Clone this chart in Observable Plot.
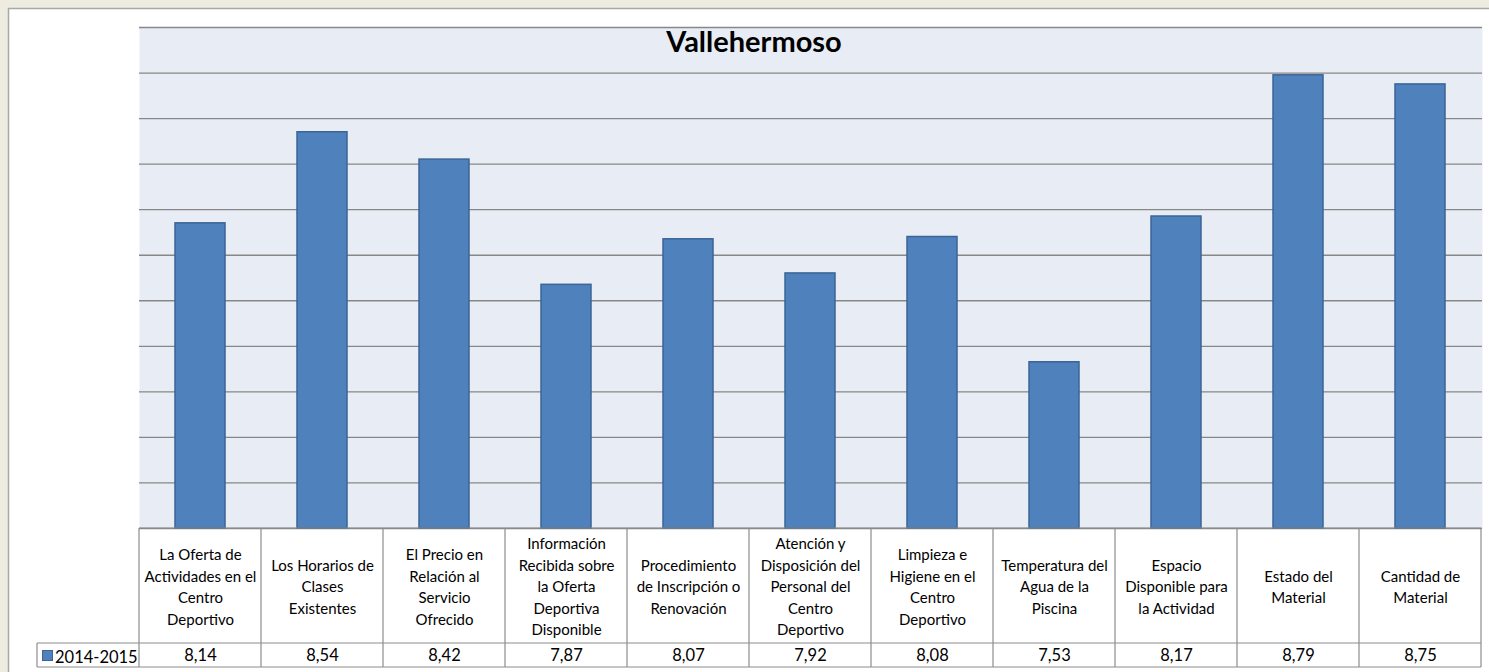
<!DOCTYPE html>
<html><head><meta charset="utf-8">
<script src="https://cdn.jsdelivr.net/npm/d3@7"></script>
<script src="https://cdn.jsdelivr.net/npm/@observablehq/plot@0.6"></script>
<style>
html,body{margin:0;padding:0;background:#EEEBE1;}
#chart{position:absolute;left:0;top:0;width:1489px;height:672px;}
svg{display:block}
</style></head><body><div id="chart"></div>
<script>
const title = "Vallehermoso";
const seriesName = "2014-2015";
const categories = [
  "La Oferta de\nActividades en el\nCentro\nDeportivo",
  "Los Horarios de\nClases\nExistentes",
  "El Precio en\nRelación al\nServicio\nOfrecido",
  "Información\nRecibida sobre\nla Oferta\nDeportiva\nDisponible",
  "Procedimiento\nde Inscripción o\nRenovación",
  "Atención y\nDisposición del\nPersonal del\nCentro\nDeportivo",
  "Limpieza e\nHigiene en el\nCentro\nDeportivo",
  "Temperatura del\nAgua de la\nPiscina",
  "Espacio\nDisponible para\nla Actividad",
  "Estado del\nMaterial",
  "Cantidad de\nMaterial"
];
const values = [8.14, 8.54, 8.42, 7.87, 8.07, 7.92, 8.08, 7.53, 8.17, 8.79, 8.75];
const yDomain = [6.8, 9.0];
const gridTicks = [6.8, 7.0, 7.2, 7.4, 7.6, 7.8, 8.0, 8.2, 8.4, 8.6, 8.8, 9.0];

const data = categories.map((c, i) => ({category: c, value: values[i]}));
const fmt = d3.formatLocale({decimal: ",", thousands: ".", grouping: [3], currency: ["", "€"]}).format(".2f");
const font = "Lato, 'Open Sans', sans-serif";
const barFill = "#4F81BD", barStroke = "#3A6596", lineColor = "#8C8C8C";

const chart = Plot.plot({
  width: 1489, height: 672,
  marginLeft: 139, marginRight: 7, marginTop: 27, marginBottom: 144,
  x: {domain: categories, paddingInner: 0.59, paddingOuter: 0.295, axis: null},
  y: {domain: yDomain, axis: null},
  style: {background: "transparent", fontFamily: font, overflow: "visible"},
  marks: [
    Plot.frame({fill: "#E8ECF4", stroke: null}),
    Plot.ruleY(gridTicks, {stroke: "#878787", strokeWidth: 1.3}),
    Plot.barY(data, {x: "category", y1: yDomain[0], y2: "value", fill: barFill, stroke: barStroke, strokeWidth: 1.5}),
    Plot.text(data, {x: "category", text: "category", frameAnchor: "bottom", dy: 57, lineAnchor: "middle", lineHeight: 1.43, fontSize: 15, fill: "#000"}),
    Plot.text(data, {x: "category", text: d => fmt(d.value), frameAnchor: "bottom", dy: 132.5, fontSize: 16.5, fill: "#000"})
  ]
});

const svg = d3.select(chart);
// white chart panel behind everything
svg.insert("rect", ":first-child")
  .attr("x", 8.5).attr("y", 8.5).attr("width", 1490).attr("height", 700)
  .attr("fill", "#FFFFFF").attr("stroke", "#A8A8A8").attr("stroke-width", 1.5);

const xs = chart.scale("x");
const step = xs.step, bw = xs.bandwidth;
const lefts = categories.map(c => xs.apply(c) - (step - bw) / 2);
const rightEdge = lefts[lefts.length - 1] + step;
const yBase = 528, yMid = 643, yBot = 667, legendLeft = 37;

const g = svg.append("g").attr("stroke", lineColor).attr("stroke-width", 1.2).attr("fill", "none");
g.append("line").attr("x1", lefts[0]).attr("x2", rightEdge).attr("y1", yBase).attr("y2", yBase);
g.append("line").attr("x1", legendLeft).attr("x2", rightEdge).attr("y1", yMid).attr("y2", yMid);
g.append("line").attr("x1", legendLeft).attr("x2", rightEdge).attr("y1", yBot).attr("y2", yBot);
[...lefts, rightEdge].forEach(x => {
  g.append("line").attr("x1", x).attr("x2", x).attr("y1", yBase).attr("y2", yBot);
});
g.append("line").attr("x1", legendLeft).attr("x2", legendLeft).attr("y1", yMid).attr("y2", yBot);

// legend key in table
svg.append("rect").attr("x", 42.5).attr("y", 650.5).attr("width", 10).attr("height", 10)
  .attr("fill", barFill).attr("stroke", barStroke).attr("stroke-width", 1);
svg.append("text").attr("x", 55).attr("y", 662.5).attr("font-size", 16.5).attr("font-family", font)
  .attr("text-anchor", "start").attr("fill", "#000").text(seriesName);

// title
svg.append("text").attr("x", 754).attr("y", 52).attr("text-anchor", "middle")
  .attr("font-size", 29).attr("font-weight", "bold").attr("font-family", font)
  .attr("fill", "#000").text(title);

document.getElementById("chart").appendChild(chart);
</script></body></html>
